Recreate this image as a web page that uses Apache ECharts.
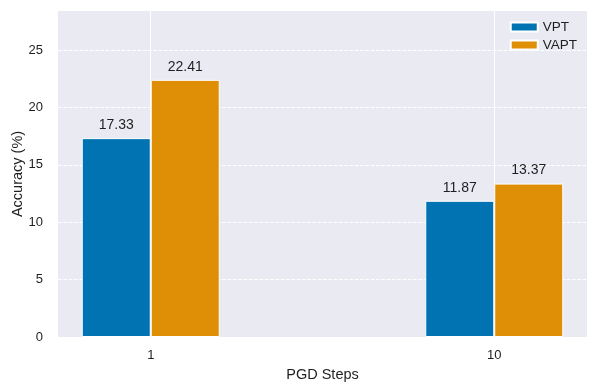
<!DOCTYPE html>
<html>
<head>
<meta charset="UTF-8"/>
<title></title>
<script src="https://cdn.jsdelivr.net/npm/echarts@6/dist/echarts.min.js"></script>
<style>
html, body { margin: 0; padding: 0; background: #fff; }
#chart { width: 598px; height: 392px; }
</style>
</head>
<body>
<div id="chart"></div>
<script>
// data
var steps = ['1', '10'];
var vpt = [17.33, 11.87];
var vapt = [22.41, 13.37];
var yTicks = [0, 5, 10, 15, 20, 25];

var textColor = '#1f1f1f';
var font = '"Liberation Sans", Arial, Helvetica, sans-serif';

function toPoints(arr) {
    return arr.map(function (v, i) { return [i, v]; });
}

var chart = echarts.init(document.getElementById('chart'));

var barLabel = {
    show: true,
    position: 'top',
    distance: 6,
    fontSize: 14,
    color: textColor,
    fontFamily: font,
    formatter: function (p) { return p.value[1].toFixed(2); }
};

var option = {
    animation: false,
    textStyle: { fontFamily: font, color: textColor },
    grid: {
        left: 58, right: 11, top: 11, bottom: 55,
        outerBoundsMode: 'none',
        show: true,
        backgroundColor: '#EAEAF2',
        borderWidth: 0
    },
    legend: {
        orient: 'vertical',
        right: 16,
        top: 15,
        align: 'left',
        itemWidth: 27,
        itemHeight: 9,
        itemGap: 4,
        icon: 'rect',
        textStyle: { fontSize: 13.5, color: textColor, fontFamily: font },
        data: ['VPT', 'VAPT']
    },
    xAxis: {
        type: 'value',
        min: -0.27,
        max: 1.27,
        splitNumber: 2,
        name: 'PGD Steps',
        nameLocation: 'middle',
        nameGap: 30,
        nameMoveOverlap: false,
        nameTextStyle: { fontSize: 14.5, color: textColor, fontFamily: font },
        axisLine: { show: false },
        axisTick: { show: false },
        axisLabel: {
            fontSize: 13,
            color: textColor,
            margin: 12,
            showMinLabel: false,
            showMaxLabel: false,
            formatter: function (v) {
                var i = Math.round(v);
                return (Math.abs(v - i) < 1e-6 && steps[i] !== undefined) ? steps[i] : '';
            }
        },
        splitLine: {
            show: true,
            showMinLine: false,
            showMaxLine: false,
            lineStyle: { color: '#ffffff', width: 1, type: 'solid' }
        }
    },
    yAxis: {
        type: 'value',
        min: 0,
        max: 28.41,
        interval: 5,
        name: 'Accuracy (%)',
        nameLocation: 'middle',
        nameGap: 33,
        nameMoveOverlap: false,
        nameTextStyle: { fontSize: 14.5, color: textColor, fontFamily: font },
        axisLine: { show: false },
        axisTick: { show: false },
        axisLabel: {
            fontSize: 13,
            color: textColor,
            margin: 15,
            showMaxLabel: false,
            formatter: function (v) {
                return yTicks.indexOf(v) >= 0 ? String(v) : '';
            }
        },
        splitLine: {
            show: true,
            showMaxLine: false,
            lineStyle: { color: '#ffffff', width: 1, type: [3.7, 1.6] }
        }
    },
    series: [
        {
            name: 'VPT',
            type: 'bar',
            data: toPoints(vpt),
            barWidth: 69,
            barGap: '0%',
            itemStyle: { color: '#0173B2', borderColor: '#ffffff', borderWidth: 1 },
            label: barLabel
        },
        {
            name: 'VAPT',
            type: 'bar',
            data: toPoints(vapt),
            barWidth: 69,
            barGap: '0%',
            itemStyle: { color: '#DE8F05', borderColor: '#ffffff', borderWidth: 1 },
            label: barLabel
        }
    ]
};

chart.setOption(option);
</script>
</body>
</html>
